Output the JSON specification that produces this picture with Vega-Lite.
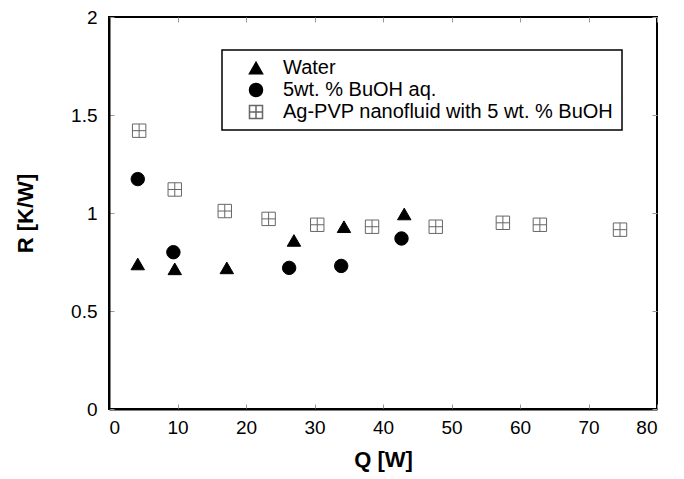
{
  "$schema": "https://vega.github.io/schema/vega-lite/v6.json",
  "width": 548,
  "height": 392,
  "autosize": {"type": "none"},
  "padding": {"left": 109, "top": 17, "right": 27, "bottom": 70},
  "background": "white",
  "config": {
    "font": "Liberation Sans",
    "view": {"stroke": "black", "strokeWidth": 2},
    "legend": {"strokeWidth": 1.5},
    "axis": {
      "domainColor": "black",
      "domainWidth": 2,
      "grid": false,
      "tickColor": "#999999",
      "tickSize": -5,
      "tickWidth": 1,
      "labelFont": "Liberation Sans",
      "labelFontSize": 19,
      "labelColor": "black",
      "titleFont": "Liberation Sans",
      "titleFontSize": 22,
      "titleFontWeight": "bold",
      "titleColor": "black"
    }
  },
  "data": {
    "values": [
      {"series": "Water", "Q": 4.2, "R": 0.74},
      {"series": "Water", "Q": 9.6, "R": 0.715},
      {"series": "Water", "Q": 17.2, "R": 0.72},
      {"series": "Water", "Q": 27.0, "R": 0.86},
      {"series": "Water", "Q": 34.3, "R": 0.93},
      {"series": "Water", "Q": 43.1, "R": 0.995},
      {"series": "5wt. % BuOH aq.", "Q": 4.2, "R": 1.173},
      {"series": "5wt. % BuOH aq.", "Q": 9.4, "R": 0.80},
      {"series": "5wt. % BuOH aq.", "Q": 26.3, "R": 0.72},
      {"series": "5wt. % BuOH aq.", "Q": 33.9, "R": 0.73},
      {"series": "5wt. % BuOH aq.", "Q": 42.7, "R": 0.87},
      {"series": "Ag-PVP nanofluid with 5 wt. % BuOH", "Q": 4.4, "R": 1.42},
      {"series": "Ag-PVP nanofluid with 5 wt. % BuOH", "Q": 9.6, "R": 1.12},
      {"series": "Ag-PVP nanofluid with 5 wt. % BuOH", "Q": 16.9, "R": 1.01},
      {"series": "Ag-PVP nanofluid with 5 wt. % BuOH", "Q": 23.3, "R": 0.97},
      {"series": "Ag-PVP nanofluid with 5 wt. % BuOH", "Q": 30.4, "R": 0.94},
      {"series": "Ag-PVP nanofluid with 5 wt. % BuOH", "Q": 38.4, "R": 0.93},
      {"series": "Ag-PVP nanofluid with 5 wt. % BuOH", "Q": 47.7, "R": 0.93},
      {"series": "Ag-PVP nanofluid with 5 wt. % BuOH", "Q": 57.5, "R": 0.95},
      {"series": "Ag-PVP nanofluid with 5 wt. % BuOH", "Q": 62.9, "R": 0.94},
      {"series": "Ag-PVP nanofluid with 5 wt. % BuOH", "Q": 74.6, "R": 0.915}
    ]
  },
  "resolve": {"axis": {"x": "independent", "y": "independent"}},
  "layer": [
    {
      "mark": {"type": "point", "opacity": 1, "strokeWidth": 1, "size": 180},
      "encoding": {
        "x": {
          "field": "Q", "type": "quantitative",
          "scale": {"domain": [0, 80], "nice": false},
          "axis": {"title": "Q [W]", "values": [0, 10, 20, 30, 40, 50, 60, 70, 80], "labelPadding": 14, "titlePadding": 12}
        },
        "y": {
          "field": "R", "type": "quantitative",
          "scale": {"domain": [0, 2], "nice": false},
          "axis": {"title": "R [K/W]", "values": [0, 0.5, 1, 1.5, 2], "format": "~g", "labelPadding": 17, "titlePadding": 33}
        },
        "shape": {
          "field": "series", "type": "nominal",
          "scale": {
            "domain": ["Water", "5wt. % BuOH aq.", "Ag-PVP nanofluid with 5 wt. % BuOH"],
            "range": ["triangle-up", "circle", "M-1,-1H1V1H-1ZM0,-1V1M-1,0H1"]
          },
          "legend": {
            "title": null,
            "orient": "none",
            "legendX": 113,
            "legendY": 33,
            "padding": 8,
            "strokeColor": "black",
            "fillColor": "white",
            "labelFont": "Liberation Sans",
            "labelFontSize": 20,
            "labelColor": "black",
            "labelLimit": 0,
            "symbolOffset": 16,
            "labelOffset": 17,
            "rowPadding": 2,
            "symbolSize": 170
          }
        },
        "fill": {
          "field": "series", "type": "nominal",
          "scale": {
            "domain": ["Water", "5wt. % BuOH aq.", "Ag-PVP nanofluid with 5 wt. % BuOH"],
            "range": ["black", "black", "transparent"]
          }
        },
        "stroke": {
          "field": "series", "type": "nominal",
          "scale": {
            "domain": ["Water", "5wt. % BuOH aq.", "Ag-PVP nanofluid with 5 wt. % BuOH"],
            "range": ["black", "black", "#666666"]
          }
        }
      }
    },
    {
      "mark": {"type": "point", "opacity": 0},
      "encoding": {
        "x": {
          "field": "Q", "type": "quantitative",
          "axis": {"orient": "top", "title": null, "labels": false, "domain": false, "values": [0, 10, 20, 30, 40, 50, 60, 70, 80]}
        },
        "y": {
          "field": "R", "type": "quantitative",
          "axis": {"orient": "right", "title": null, "labels": false, "domain": false, "values": [0, 0.5, 1, 1.5, 2]}
        }
      }
    }
  ]
}
